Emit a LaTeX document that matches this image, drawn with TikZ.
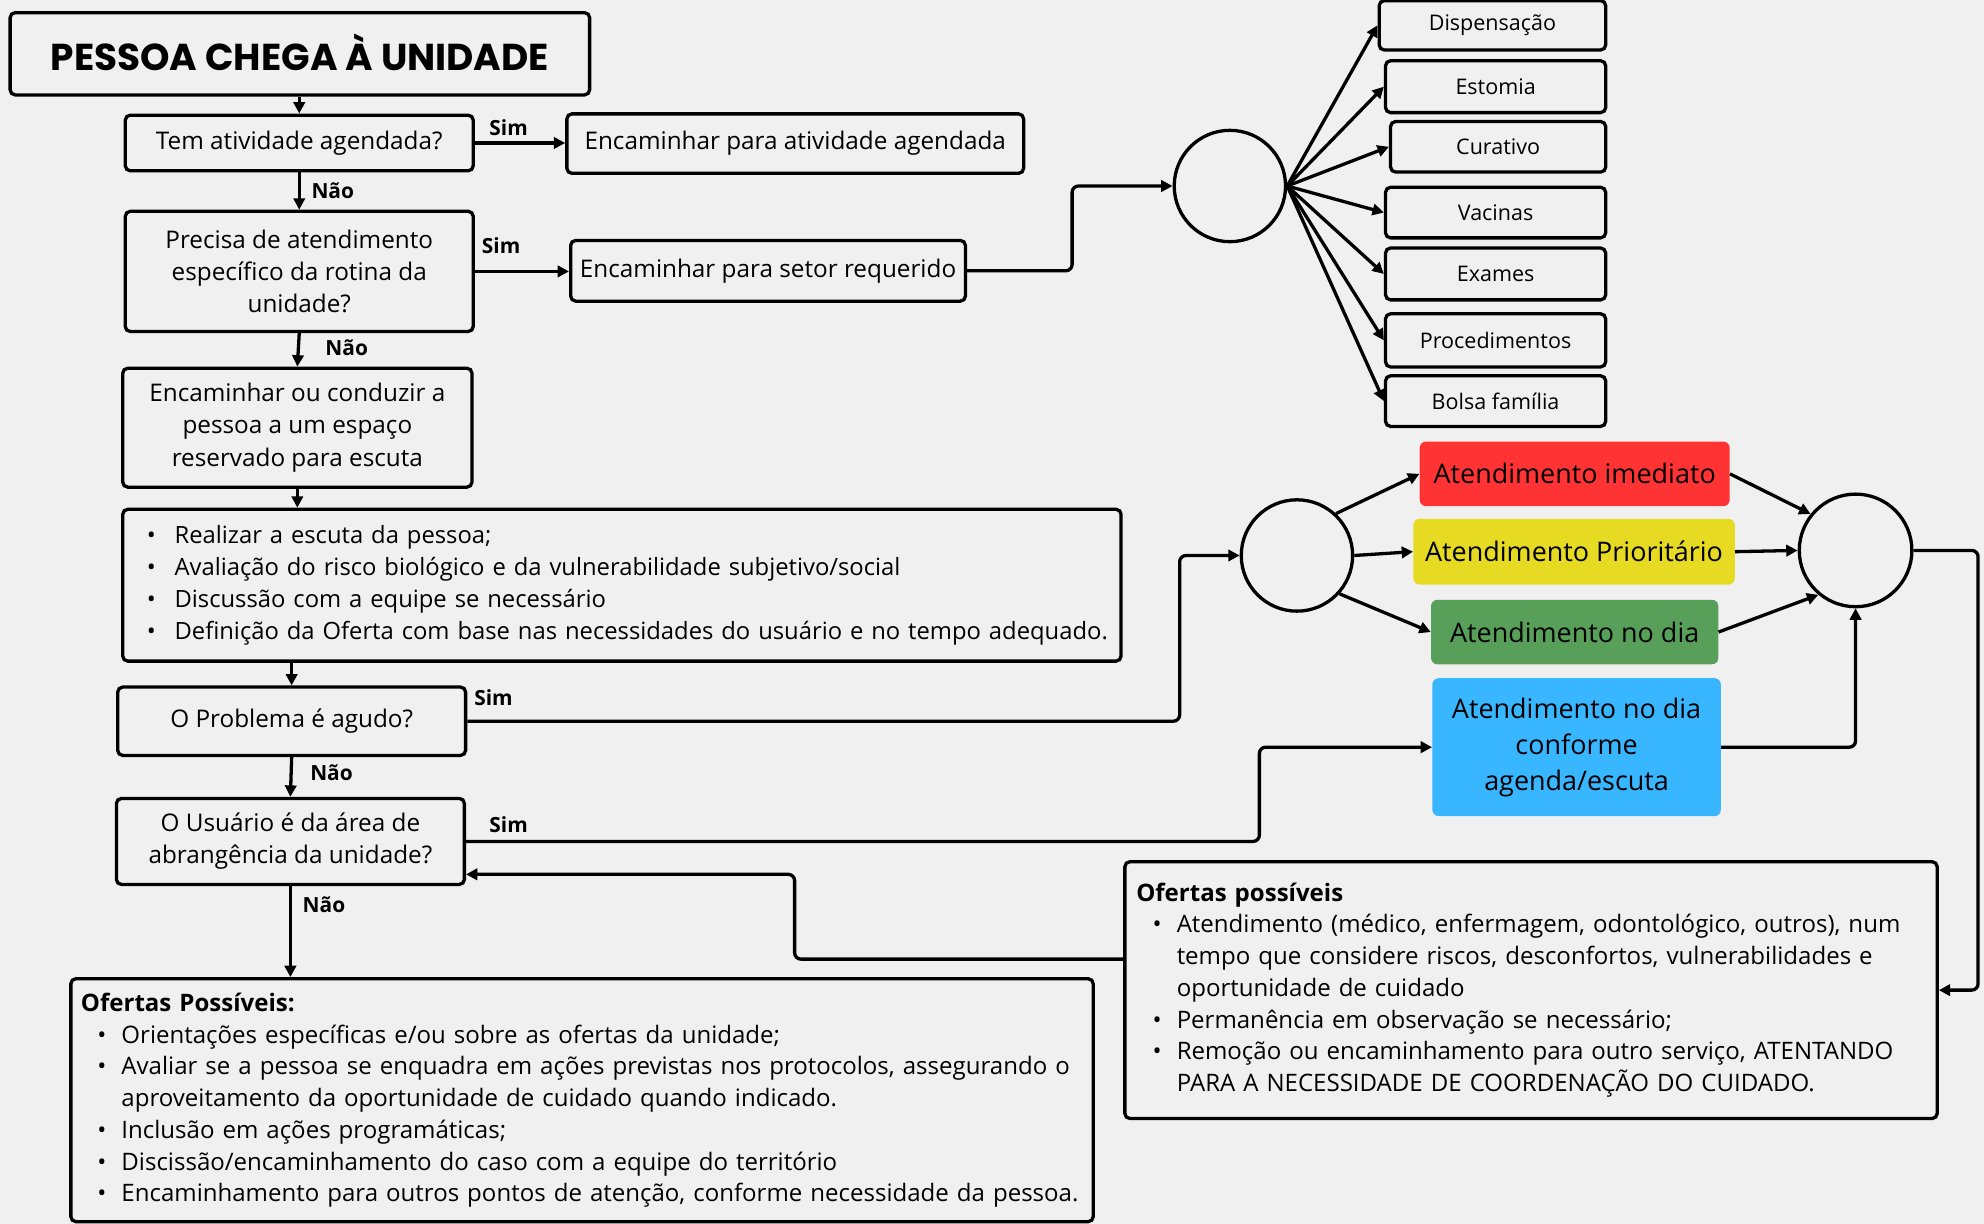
\documentclass[tikz,border=0pt]{standalone}
\usepackage{fontspec}
\setmainfont{Open Sans}
\newfontfamily\headfont{Poppins}
\usetikzlibrary{arrows.meta}
\definecolor{paper}{HTML}{F0F0F0}
\definecolor{redbox}{HTML}{FF3333}
\definecolor{yellowbox}{HTML}{E6DB22}
\definecolor{greenbox}{HTML}{58A05A}
\definecolor{bluebox}{HTML}{38B6FF}
% bullet marker of a fixed width, and the indent of a continued line
\newcommand{\itm}{\makebox[19pt][l]{\textbullet}}
\newcommand{\itmwide}{\makebox[22pt][l]{\textbullet}}
\newcommand{\contl}{\hspace*{19pt}}
\begin{document}
\begin{tikzpicture}[x=1pt,y=-1pt,
  box/.style={draw, line width=2.6pt, rounded corners=4pt, align=center, inner sep=2pt,
    font=\fontsize{19.2}{25.5}\selectfont},
  small/.style={box, font=\fontsize{17}{19}\selectfont},
  listbox/.style={draw, line width=2.6pt, rounded corners=4pt, align=left, inner ysep=0pt,
    font=\fontsize{19}{25.1}\selectfont},
  tone/.style={rounded corners=5pt, align=center, inner sep=2pt,
    font=\fontsize{21.3}{28.5}\selectfont},
  hub/.style={draw, circle, line width=2.6pt, minimum size=88pt, inner sep=0pt},
  lbl/.style={font=\bfseries\fontsize{16.5}{18}\selectfont, inner sep=0pt},
  arr/.style={line width=2.6pt, rounded corners=5pt, -{Triangle[length=9pt,width=9pt]}},
  ]
\fill[paper] (0,0) rectangle (1568,967);
\useasboundingbox (0,0) rectangle (1568,967);

% ---------- left column ----------
\node[box, minimum width=458pt, minimum height=65pt] (start) at (237,42.5)
  {\raisebox{3pt}{\headfont\bfseries\fontsize{29.6}{32}\selectfont PESSOA CHEGA À UNIDADE}};
\node[box, minimum width=275pt, minimum height=44pt] (q1) at (236.5,113)
  {Tem atividade agendada?};
\node[box, minimum width=361pt, minimum height=47pt] (a1) at (628.5,113.5)
  {Encaminhar para atividade agendada};
\node[box, minimum width=275pt, minimum height=95pt] (q2) at (236.5,214.5)
  {Precisa de atendimento\\específico da rotina da\\unidade?};
\node[box, minimum width=312pt, minimum height=48pt] (a2) at (607,214)
  {Encaminhar para setor requerido};
\node[box, minimum width=276pt, minimum height=94pt] (q3) at (235,338)
  {Encaminhar ou conduzir a\\pessoa a um espaço\\reservado para escuta};
\node[listbox, text width=751pt, inner xsep=19pt, minimum height=120pt,
      font=\fontsize{18.8}{25.3}\selectfont] (escuta) at (491.5,462.5)
  {\mbox{\itmwide Realizar a escuta da pessoa;}\\
   \mbox{\itmwide Avaliação do risco biológico e da vulnerabilidade subjetivo/social}\\
   \mbox{\itmwide Discussão com a equipe se necessário}\\
   \mbox{\itmwide Definição da Oferta com base nas necessidades do usuário e no tempo adequado.}};
\node[box, minimum width=275pt, minimum height=54pt] (q4) at (230.5,570)
  {O Problema é agudo?};
\node[box, minimum width=275pt, minimum height=68pt] (q5) at (229.5,665)
  {O Usuário é da área de\\abrangência da unidade?};
\node[listbox, text width=792pt, inner xsep=8pt, minimum height=192pt] (ofertasA) at (460,869.5)
  {\textbf{Ofertas Possíveis:}\\
   \mbox{\hspace*{13pt}\itm Orientações específicas e/ou sobre as ofertas da unidade;}\\
   \mbox{\hspace*{13pt}\itm Avaliar se a pessoa se enquadra em ações previstas nos protocolos, assegurando o}\\
   \mbox{\hspace*{13pt}\contl aproveitamento da oportunidade de cuidado quando indicado.}\\
   \mbox{\hspace*{13pt}\itm Inclusão em ações programáticas;}\\
   \mbox{\hspace*{13pt}\itm Discissão/encaminhamento do caso com a equipe do território}\\
   \mbox{\hspace*{13pt}\itm Encaminhamento para outros pontos de atenção, conforme necessidade da pessoa.}};

% ---------- sectors ----------
\node[hub] (hubA) at (972,147) {};
\node[small, minimum width=179pt, minimum height=39pt] (s1) at (1179.5,20) {Dispensação};
\node[small, minimum width=174pt, minimum height=41pt] (s2) at (1182,68.5) {Estomia};
\node[small, minimum width=170pt, minimum height=40pt] (s3) at (1184,116) {Curativo};
\node[small, minimum width=174pt, minimum height=40pt] (s4) at (1182,168) {Vacinas};
\node[small, minimum width=174pt, minimum height=41pt] (s5) at (1182,216.5) {Exames};
\node[small, minimum width=174pt, minimum height=42pt] (s6) at (1182,269) {Procedimentos};
\node[small, minimum width=174pt, minimum height=40pt] (s7) at (1182,317) {Bolsa família};

% ---------- risk classification ----------
\node[hub] (hubB) at (1025,439) {};
\node[tone, fill=redbox, minimum width=245pt, minimum height=51pt] (red) at (1244.5,374.5)
  {Atendimento imediato};
\node[tone, fill=yellowbox, minimum width=254pt, minimum height=52pt] (yellow) at (1244,436)
  {Atendimento Prioritário};
\node[tone, fill=greenbox, minimum width=227pt, minimum height=51pt] (green) at (1244.5,499.5)
  {Atendimento no dia};
\node[tone, fill=bluebox, minimum width=228pt, minimum height=109pt] (blue) at (1246,590.5)
  {Atendimento no dia\\conforme\\agenda/escuta};
\node[hub, minimum size=89pt] (hubC) at (1466.5,435) {};
\node[listbox, text width=624pt, inner xsep=9pt, minimum height=203pt] (ofertasB) at (1210,782.5)
  {\textbf{Ofertas possíveis}\\
   \mbox{\hspace*{13pt}\itm Atendimento (médico, enfermagem, odontológico, outros), num}\\
   \mbox{\hspace*{13pt}\contl tempo que considere riscos, desconfortos, vulnerabilidades e}\\
   \mbox{\hspace*{13pt}\contl oportunidade de cuidado}\\
   \mbox{\hspace*{13pt}\itm Permanência em observação se necessário;}\\
   \mbox{\hspace*{13pt}\itm Remoção ou encaminhamento para outro serviço, ATENTANDO}\\
   \mbox{\hspace*{13pt}\contl PARA A NECESSIDADE DE COORDENAÇÃO DO CUIDADO.}};

% ---------- branch labels ----------
\node[lbl] (sim1) at (402,101) {Sim};
\node[lbl] (nao1) at (263,151) {Não};
\node[lbl] (sim2) at (396,194) {Sim};
\node[lbl] (nao2) at (274,275) {Não};
\node[lbl] (sim3) at (390,551) {Sim};
\node[lbl] (nao3) at (262,611) {Não};
\node[lbl] (sim4) at (402,652) {Sim};
\node[lbl] (nao4) at (256,715) {Não};

% ---------- connectors ----------
\draw[arr] (start.south -| q1.north) -- (q1.north);
\draw[arr] (q1.east) -- (q1.east -| a1.west);
\draw[arr] (q1.south) -- (q2.north);
\draw[arr] (q2.east) -- (q2.east -| a2.west);
\draw[arr] (a2.east) -- ++(83,0) |- (hubA.west);
\foreach \s in {s1,s2,s3,s4,s5,s6,s7}
  \draw[arr] (hubA.east) -- (\s.west);
\draw[arr] (q2.south) -- (q3.north);
\draw[arr] (q3.south) -- (q3.south |- escuta.north);
\draw[arr] (q4.north |- escuta.south) -- (q4.north);
\draw[arr] (q4.east) -- ++(563,0) |- (hubB.west);
\draw[arr] (q4.south) -- (q5.north);
\draw[arr] (q5.east) -- ++(627,0) |- (blue.west);
\draw[arr] (q5.south) -- (q5.south |- ofertasA.north);
\draw[arr] ([yshift=24.5pt]ofertasB.west) -| (628,691) -- ([yshift=-26pt]q5.east);
\draw[arr] (hubB.47) -- (red.west);
\draw[arr] (hubB.east) -- (yellow.west);
\draw[arr] (hubB.-42) -- (green.west);
\draw[arr] (red.east) -- (hubC.141);
\draw[arr] (yellow.east) -- (hubC.west);
\draw[arr] (green.east) -- (hubC.230);
\draw[arr] (blue.east) -| (hubC.south);
\draw[arr] (hubC.east) -- ++(51,0) |- (ofertasB.east);
\end{tikzpicture}
\end{document}
